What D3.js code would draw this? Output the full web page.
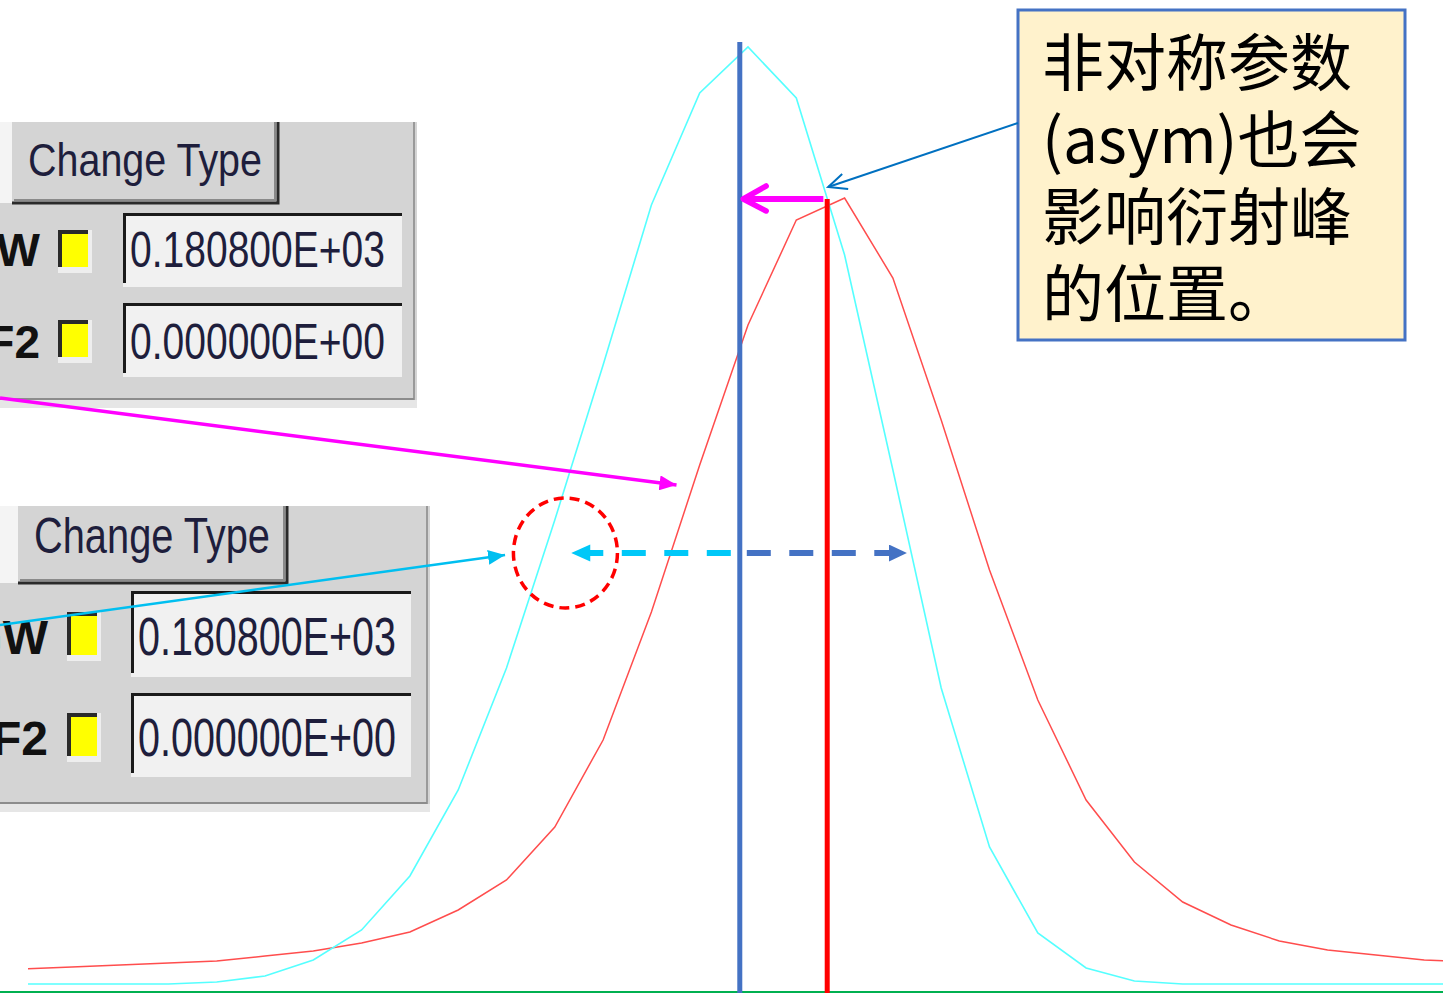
<!DOCTYPE html>
<html>
<head>
    <meta charset="utf-8" />
    <title>asym shifts the peak</title>
    <script src="https://cdn.jsdelivr.net/npm/d3@7/dist/d3.min.js"></script>
    <style>
        body { margin: 0; background: #fff; }
        svg { display: block; }
        .ui { font-family: "Liberation Sans", Arial, sans-serif; }
        .note { font-family: "Noto Sans CJK SC", sans-serif; }
    </style>
</head>
<body>
<script>
    // profile channels, counted from the symmetric peak
    var steps = [-15, -14, -13, -12, -11, -10, -9, -8, -7, -6, -5, -4, -3, -2, -1, 0,
                 1, 2, 3, 4, 5, 6, 7, 8, 9, 10, 11, 12, 13, 14, 15];

    // cyan: profile without asym
    var symProfile = [8, 8, 8, 8, 10, 16, 32, 62, 116, 202, 324, 472, 627, 787, 899, 945,
                      894, 737, 522, 304, 145, 59, 24, 11, 8, 8, 8, 8, 8, 8, 8];

    // red: same peak with asym switched on
    var asymProfile = [23, 25, 27, 29, 31, 36, 41, 49, 60, 82, 112, 165, 252, 380, 527, 667,
                       772, 794, 714, 572, 422, 292, 192, 130, 90, 67, 51, 42, 37, 32, 30];

    // peak positions and the annotation anchors (channel, intensity)
    var symPeak = -0.17, symTop = 950;
    var asymPeak = 1.64, asymTop = 793;
    var shiftFrom = 1.56, shiftTo = -0.1;
    var widthLevel = 439, widthLeft = -3.66, widthRight = 3.29;
    var circleAt = [-3.78, 439];
    var calloutTip = [1.66, 805];
    var magentaTip = [-1.48, 507];
    var cyanTip = [-5.03, 437];

    // the GSAS-style input panels
    var panelTitle = 'Change Type';
    var rowLabels = ['GW', 'F2'];
    var rowValues = ['0.180800E+03', '0.000000E+00'];
    var noteLines = ['非对称参数', '(asym)也会', '影响衍射峰', '的位置。'];

    var width = 1443, height = 993;

    var x = d3.scaleLinear().domain([-15, 15]).range([23.5, 1472.5]);
    var y = d3.scaleLinear().domain([0, 950]).range([992, 42]);

    var svg = d3.select('body').append('svg')
        .attr('width', width)
        .attr('height', height);

    var defs = svg.append('defs');
    defs.append('clipPath').attr('id', 'plot')
        .append('rect').attr('x', 28).attr('y', 0).attr('width', width - 28).attr('height', height);

    function headMarker(id, color, len, wid) {
        defs.append('marker')
            .attr('id', id)
            .attr('markerUnits', 'userSpaceOnUse')
            .attr('viewBox', '0 0 10 10')
            .attr('refX', 10).attr('refY', 5)
            .attr('markerWidth', len).attr('markerHeight', wid)
            .attr('orient', 'auto')
            .attr('preserveAspectRatio', 'none')
            .append('path')
                .attr('d', 'M0,0 L10,5 L0,10 z')
                .attr('fill', color);
    }
    headMarker('headMagenta', '#ff00ff', 17, 15);
    headMarker('headCyan', '#00bff0', 17, 15);
    headMarker('headBlue', '#4472c4', 18, 17);

    // baseline
    svg.append('line')
        .attr('x1', 0).attr('x2', width)
        .attr('y1', y(0)).attr('y2', y(0))
        .attr('stroke', '#00b050').attr('stroke-width', 2);

    var line = d3.line()
        .x(function(d, i) { return x(steps[i]); })
        .y(function(d) { return y(d); });

    var curves = svg.append('g').attr('clip-path', 'url(#plot)');
    curves.append('path')
        .datum(asymProfile)
        .attr('d', line)
        .attr('fill', 'none')
        .attr('stroke', '#ff4d4d')
        .attr('stroke-width', 1.5);
    curves.append('path')
        .datum(symProfile)
        .attr('d', line)
        .attr('fill', 'none')
        .attr('stroke', '#55ffff')
        .attr('stroke-width', 1.6);

    // peak position markers
    svg.append('line')
        .attr('x1', x(symPeak)).attr('x2', x(symPeak))
        .attr('y1', y(symTop)).attr('y2', height)
        .attr('stroke', '#4472c4').attr('stroke-width', 5);
    svg.append('line')
        .attr('x1', x(asymPeak)).attr('x2', x(asymPeak))
        .attr('y1', y(asymTop)).attr('y2', height)
        .attr('stroke', '#ff0000').attr('stroke-width', 5);

    // shift arrow between the two peaks
    svg.append('line')
        .attr('x1', x(shiftFrom)).attr('x2', x(shiftTo) + 3)
        .attr('y1', y(asymTop)).attr('y2', y(asymTop))
        .attr('stroke', '#ff00ff').attr('stroke-width', 6);
    svg.append('path')
        .attr('d', 'M' + (x(shiftTo) + 23) + ',' + (y(asymTop) - 13) +
                   ' L' + x(shiftTo) + ',' + y(asymTop) +
                   ' L' + (x(shiftTo) + 23) + ',' + (y(asymTop) + 12))
        .attr('fill', 'none')
        .attr('stroke', '#ff00ff').attr('stroke-width', 5.5)
        .attr('stroke-linecap', 'round').attr('stroke-linejoin', 'round');

    // input panels copied from the program window
    function drawPanel(p) {
        var g = svg.append('g').attr('class', 'ui');
        g.append('rect').attr('x', -5).attr('y', p.top).attr('width', p.right + 5).attr('height', p.bottom - p.top)
            .attr('fill', '#d4d4d4');
        g.append('rect').attr('x', -5).attr('y', p.bottom).attr('width', p.right + 5).attr('height', 8)
            .attr('fill', '#e6e6e6');
        g.append('line').attr('x1', p.right - 3).attr('x2', p.right - 3).attr('y1', p.top).attr('y2', p.bottom)
            .attr('stroke', '#9a9a9a').attr('stroke-width', 2);
        g.append('line').attr('x1', -5).attr('x2', p.right - 3).attr('y1', p.bottom - 1).attr('y2', p.bottom - 1)
            .attr('stroke', '#8c8c8c').attr('stroke-width', 2);
        g.append('rect').attr('x', 0).attr('y', p.top).attr('width', p.btnX).attr('height', p.btnBottom - p.top)
            .attr('fill', '#f4f4f4');

        // button
        g.append('rect').attr('x', p.btnX).attr('y', p.top).attr('width', p.btnR - p.btnX).attr('height', p.btnBottom - p.top)
            .attr('fill', '#d4d4d4');
        g.append('path')
            .attr('d', 'M' + p.btnX + ',' + p.btnBottom + ' L' + p.btnR + ',' + p.btnBottom + ' L' + p.btnR + ',' + p.top)
            .attr('fill', 'none').attr('stroke', '#2a2a2a').attr('stroke-width', 3);
        g.append('path')
            .attr('d', 'M' + (p.btnX + 2) + ',' + (p.btnBottom - 3) + ' L' + (p.btnR - 3) + ',' + (p.btnBottom - 3) + ' L' + (p.btnR - 3) + ',' + p.top)
            .attr('fill', 'none').attr('stroke', '#8a8a8a').attr('stroke-width', 2);
        g.append('text')
            .attr('x', p.btnX + 16).attr('y', p.titleBase)
            .attr('font-size', p.titleSize)
            .attr('textLength', p.titleLen).attr('lengthAdjust', 'spacingAndGlyphs')
            .attr('fill', '#1e1e3c')
            .text(panelTitle);

        rowLabels.forEach(function(lab, i) {
            var r = p.rows[i];
            g.append('text')
                .attr('x', p.labelEnd).attr('y', r.base)
                .attr('text-anchor', 'end')
                .attr('font-size', p.labelSize).attr('font-weight', 'bold')
                .attr('fill', '#111')
                .text(lab);

            // check box
            g.append('rect').attr('x', p.boxX).attr('y', r.boxY).attr('width', 34).attr('height', r.boxH)
                .attr('fill', '#eeeeee');
            g.append('rect').attr('x', p.boxX).attr('y', r.boxY).attr('width', 30).attr('height', r.boxH - 6)
                .attr('fill', '#2a2a2a');
            g.append('rect').attr('x', p.boxX + 4).attr('y', r.boxY + 4).attr('width', 26).attr('height', r.boxH - 10)
                .attr('fill', '#ffff00');

            // value field
            g.append('rect').attr('x', p.fieldX).attr('y', r.fieldY).attr('width', p.fieldR - p.fieldX).attr('height', r.fieldH)
                .attr('fill', '#f1f1f1');
            g.append('path')
                .attr('d', 'M' + (p.fieldX + 1.5) + ',' + (r.fieldY + r.fieldH - 4) + ' L' + (p.fieldX + 1.5) + ',' + (r.fieldY + 1.5) + ' L' + p.fieldR + ',' + (r.fieldY + 1.5))
                .attr('fill', 'none').attr('stroke', '#1a1a1a').attr('stroke-width', 3);
            g.append('text')
                .attr('x', p.fieldX + 7).attr('y', r.base + 1)
                .attr('font-size', p.valueSize)
                .attr('textLength', p.valueLen).attr('lengthAdjust', 'spacingAndGlyphs')
                .attr('fill', '#1e1e3c')
                .text(rowValues[i]);
        });
    }

    drawPanel({
        top: 122, bottom: 400, right: 417,
        btnX: 12, btnR: 278, btnBottom: 203,
        titleBase: 176, titleSize: 46, titleLen: 234,
        labelEnd: 40, labelSize: 46, boxX: 58,
        fieldX: 123, fieldR: 402,
        valueSize: 50, valueLen: 255,
        rows: [
            { base: 266, boxY: 230, boxH: 43, fieldY: 213, fieldH: 74 },
            { base: 358, boxY: 320, boxH: 43, fieldY: 303, fieldH: 74 }
        ]
    });
    drawPanel({
        top: 506, bottom: 804, right: 430,
        btnX: 18, btnR: 287, btnBottom: 583,
        titleBase: 553, titleSize: 50, titleLen: 236,
        labelEnd: 48, labelSize: 48, boxX: 67,
        fieldX: 131, fieldR: 411,
        valueSize: 54, valueLen: 258,
        rows: [
            { base: 654, boxY: 612, boxH: 49, fieldY: 591, fieldH: 86 },
            { base: 755, boxY: 713, boxH: 49, fieldY: 693, fieldH: 84 }
        ]
    });

    // pointers from the panels to the curves
    svg.append('line')
        .attr('x1', 0).attr('y1', 398)
        .attr('x2', x(magentaTip[0])).attr('y2', y(magentaTip[1]))
        .attr('stroke', '#ff00ff').attr('stroke-width', 3.5)
        .attr('marker-end', 'url(#headMagenta)');
    svg.append('line')
        .attr('x1', 0).attr('y1', 625)
        .attr('x2', x(cyanTip[0])).attr('y2', y(cyanTip[1]))
        .attr('stroke', '#00bff0').attr('stroke-width', 2.5)
        .attr('marker-end', 'url(#headCyan)');

    // peak width arrow (dashed)
    svg.append('line')
        .attr('x1', x(symPeak) - 9).attr('x2', x(widthLeft) + 8)
        .attr('y1', y(widthLevel)).attr('y2', y(widthLevel))
        .attr('stroke', '#00c8f8').attr('stroke-width', 6)
        .attr('stroke-dasharray', '24 18.5');
    svg.append('path')
        .attr('d', 'M' + x(widthLeft) + ',' + y(widthLevel) +
                   ' L' + (x(widthLeft) + 19) + ',' + (y(widthLevel) - 8.5) +
                   ' L' + (x(widthLeft) + 19) + ',' + (y(widthLevel) + 8.5) + ' z')
        .attr('fill', '#00c8f8');
    svg.append('line')
        .attr('x1', x(symPeak) + 7).attr('x2', x(widthRight))
        .attr('y1', y(widthLevel)).attr('y2', y(widthLevel))
        .attr('stroke', '#4472c4').attr('stroke-width', 6)
        .attr('stroke-dasharray', '24 18.5')
        .attr('marker-end', 'url(#headBlue)');

    // dashed ring round the crossing
    svg.append('ellipse')
        .attr('cx', x(circleAt[0])).attr('cy', y(circleAt[1]))
        .attr('rx', 52).attr('ry', 55)
        .attr('fill', 'none')
        .attr('stroke', '#ff0000').attr('stroke-width', 3.5)
        .attr('stroke-dasharray', '10 6');

    // callout
    var box = { x: 1018, y: 10, w: 387, h: 330 };
    svg.append('rect')
        .attr('x', box.x).attr('y', box.y).attr('width', box.w).attr('height', box.h)
        .attr('fill', '#fff2cc')
        .attr('stroke', '#4472c4').attr('stroke-width', 3);
    svg.append('g').attr('class', 'note')
        .selectAll('text')
        .data(noteLines)
        .enter().append('text')
            .attr('x', box.x + 24)
            .attr('y', function(d, i) { return box.y + 49 + i * 77; })
            .attr('dominant-baseline', 'central')
            .attr('font-size', 62)
            .attr('fill', '#000')
            .text(function(d) { return d; });

    var tx = x(calloutTip[0]), ty = y(calloutTip[1]);
    svg.append('line')
        .attr('x1', box.x).attr('y1', 123)
        .attr('x2', tx).attr('y2', ty)
        .attr('stroke', '#0070c0').attr('stroke-width', 2);
    svg.append('path')
        .attr('d', 'M' + (tx + 14) + ',' + (ty - 13) + ' L' + tx + ',' + ty + ' L' + (tx + 20) + ',' + (ty + 2))
        .attr('fill', 'none')
        .attr('stroke', '#0070c0').attr('stroke-width', 2);
</script>
</body>
</html>
